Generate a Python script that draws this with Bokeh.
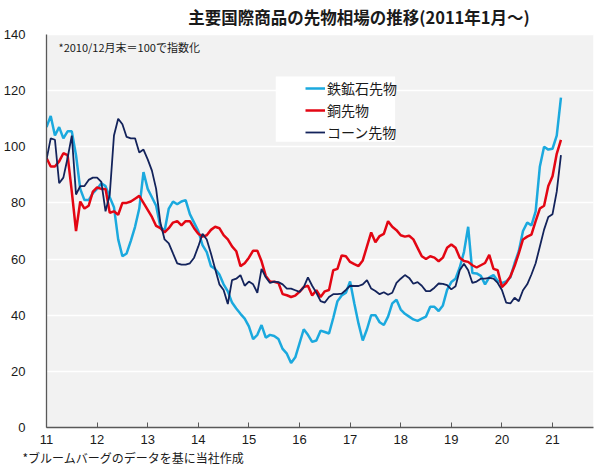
from bokeh.plotting import figure
from bokeh.models import Range1d, FixedTicker, Label, Legend, LegendItem, BoxAnnotation, Title
from bokeh.embed import file_html
from bokeh.resources import INLINE

# Monthly index values, Jan 2011 - Mar 2021 (end of Dec 2010 = 100)
iron_ore = [107, 111, 104, 107, 103, 105.5, 105.5, 97, 85, 81, 81, 83.5,
            85, 87, 86, 82, 78.5, 67, 61, 62, 66.5, 71.5, 78, 91,
            85, 82, 79, 71.5, 70, 78, 80.5, 79.5, 80.5, 81, 76, 73,
            70, 65, 62.5, 57.5, 56.5, 54.5, 51, 48.5, 44.5, 42.4, 40.5, 38.8,
            36, 31.5, 33, 36.5, 32, 33, 32.6, 31.5, 28, 26.3, 23, 25,
            30, 35, 33, 30.5, 31, 34.5, 34, 33.5, 39, 45, 47, 48,
            52, 44.2, 37, 31, 35, 40, 40, 37.5, 36.5, 39.5, 44.2, 45.5,
            42, 40.5, 39.5, 38.5, 38, 38.8, 39.5, 43, 43, 41.5, 43.5, 49,
            51.8, 53, 57, 62.5, 71.5, 55, 54.9, 54, 51, 53.5, 54.3, 52.2,
            51.4, 52, 53.5, 58.5, 62.8, 70, 73, 72, 77, 93, 100, 99,
            99.3, 104, 117.5]
copper = [96, 93, 93, 94.8, 97.7, 97, 84, 70, 80.5, 78, 79, 84,
          85.5, 85, 85, 76.5, 77, 75.8, 80, 80, 80.5, 81.5, 82.5, 80,
          77.5, 75, 71.8, 71, 69.5, 71, 73, 73.5, 72, 73.5, 73.5, 71,
          69, 68, 68.5, 70.4, 71.5, 71, 68.5, 67, 64.5, 62.8, 57.5, 58.5,
          60.5, 63, 63, 59.2, 54, 52, 51.9, 51.5, 47.5, 47.1, 46.5, 47,
          48.3, 50, 50.5, 47, 48.9, 46.5, 48.5, 49, 56, 56.5, 61.3, 61,
          59, 58.2, 57.5, 59.5, 64.5, 69.5, 66, 68.2, 69, 73.5, 71.5, 70.3,
          68.5, 68, 68.3, 67, 64, 61, 60, 61, 60.5, 59.2, 60.5, 64,
          65.2, 64, 60.5, 59.3, 59, 57.8, 57, 57.8, 58.6, 61.5, 56.5, 56,
          50, 51.5, 53.8, 57.5, 62, 67, 68, 68.7, 73.5, 78, 79, 86,
          89.5, 97.5, 102.5]
corn = [95.4, 103, 102.5, 87, 89, 96, 104, 83, 86, 86, 88.2, 89,
        89, 87.5, 77, 83, 104, 110, 108, 103.5, 103, 103, 98, 99,
        95.5, 91.5, 85, 73, 67, 65.6, 62, 58.5, 58, 58, 58.5, 60.5,
        64.5, 69, 67, 62, 56.5, 51, 49, 44, 52.5, 53, 54.3, 50.5,
        52, 51, 48, 56.5, 53.5, 51.5, 52, 51.8, 51, 49.5, 49.5, 48.9,
        48.3, 50, 53.5, 50.5, 48, 45, 44.5, 46.5, 47.5, 47.5, 47.7, 49,
        50.5, 50.4, 50.4, 51, 52.5, 49.5, 48.6, 47.5, 48.2, 47.3, 48, 51.5,
        53, 54.3, 53.3, 51.2, 51.8, 50.5, 48.6, 48.6, 49.8, 51.3, 51.2, 50.7,
        49.2, 50.3, 56, 58.3, 56, 51.5, 52, 53, 53, 53.3, 53, 51.5,
        49, 44.5, 44.2, 46.2, 45, 48.9, 51, 54.5, 58.5, 64.5, 70.5, 75,
        76, 84, 97]
series_names = ["鉄鉱石先物", "銅先物", "コーン先物"]
year_ticks = list(range(11, 22))      # axis labels "11" ... "21"
value_ticks = list(range(0, 141, 20))
y_max = 140

# x in "years since 2000" (11 = Jan 2011)
months = [11 + i / 12 for i in range(len(iron_ore))]

# frame runs from the canvas top; the gray plot area covers 0..140 only
frame_h = 427          # px, frame height
area_h = 393           # px, height of the 0..140 area
p = figure(width=600, height=468, output_backend="svg", toolbar_location=None,
           x_range=Range1d(11, 21.81), y_range=Range1d(0, y_max * frame_h / area_h),
           min_border_left=41, min_border_right=7, min_border_top=0,
           min_border_bottom=41)
p.background_fill_color = "white"
p.border_fill_color = "white"
p.outline_line_color = None

area = BoxAnnotation(bottom=0, top=y_max, fill_color="#f2f2f2", fill_alpha=1,
                     line_color=None, level="image")
p.add_layout(area)

p.xgrid.visible = False
p.ygrid.grid_line_color = "white"
p.ygrid.grid_line_width = 1.6
p.ygrid.ticker = FixedTicker(ticks=value_ticks)

p.yaxis.ticker = FixedTicker(ticks=value_ticks)
p.yaxis.bounds = (0, y_max)
p.xaxis.ticker = FixedTicker(ticks=year_ticks)
for ax in (p.xaxis, p.yaxis):
    ax.axis_line_color = "#595959"
    ax.axis_line_width = 1.3
    ax.minor_tick_line_color = None
    ax.major_label_text_font = "Liberation Sans"
    ax.major_label_text_font_size = "13px"
    ax.major_label_text_color = "#1a1a1a"
p.xaxis.major_label_standoff = 7
p.yaxis.major_label_standoff = 15
p.xaxis.major_tick_in = 5
p.xaxis.major_tick_out = 0
p.xaxis.major_tick_line_color = "#595959"
p.yaxis.major_tick_line_color = None

colors = ["#1ba9de", "#e30613", "#13235b"]
widths = [2.5, 2.5, 1.8]
renderers = []
for vals, c, w in zip([iron_ore, copper, corn], colors, widths):
    renderers.append(p.line(months, vals, line_color=c, line_width=w))

# white legend panel
box = BoxAnnotation(left=15.53, right=17.89, top=125, bottom=101.8,
                    fill_color="white", fill_alpha=1, line_color=None)
p.add_layout(box)

legend = Legend(items=[LegendItem(label=n, renderers=[r]) for n, r in zip(series_names, renderers)],
                location=(259, 285))
legend.background_fill_alpha = 0
legend.border_line_color = None
legend.padding = 0
legend.margin = 0
legend.spacing = 2
legend.glyph_width = 20
legend.glyph_height = 20
legend.label_height = 20
legend.label_standoff = 2
legend.label_text_font = "Noto Sans CJK JP"
legend.label_text_font_size = "14px"
legend.label_text_color = "#1a1a1a"
p.add_layout(legend)

title = Label(x=312.5, y=frame_h - 16, x_units="screen", y_units="screen",
              text="主要国際商品の先物相場の推移(2011年1月～)",
              text_align="center", text_baseline="middle",
              text_font="Noto Sans CJK JP", text_font_size="16.5px",
              text_font_style="bold", text_color="#1a1a1a")
p.add_layout(title)

note = Label(x=12, y=381, x_units="screen", y_units="screen",
             text="*2010/12月末＝100で指数化", text_baseline="middle",
             text_font="Noto Sans CJK JP", text_font_size="11px", text_color="#1a1a1a")
p.add_layout(note)

source = Title(text="*ブルームバーグのデータを基に当社作成", align="left", offset=-24,
               standoff=0, text_font="Noto Sans CJK JP", text_font_size="12px",
               text_font_style="normal", text_color="#1a1a1a")
p.add_layout(source, "below")

open("out.html", "w").write(file_html(p, INLINE))
